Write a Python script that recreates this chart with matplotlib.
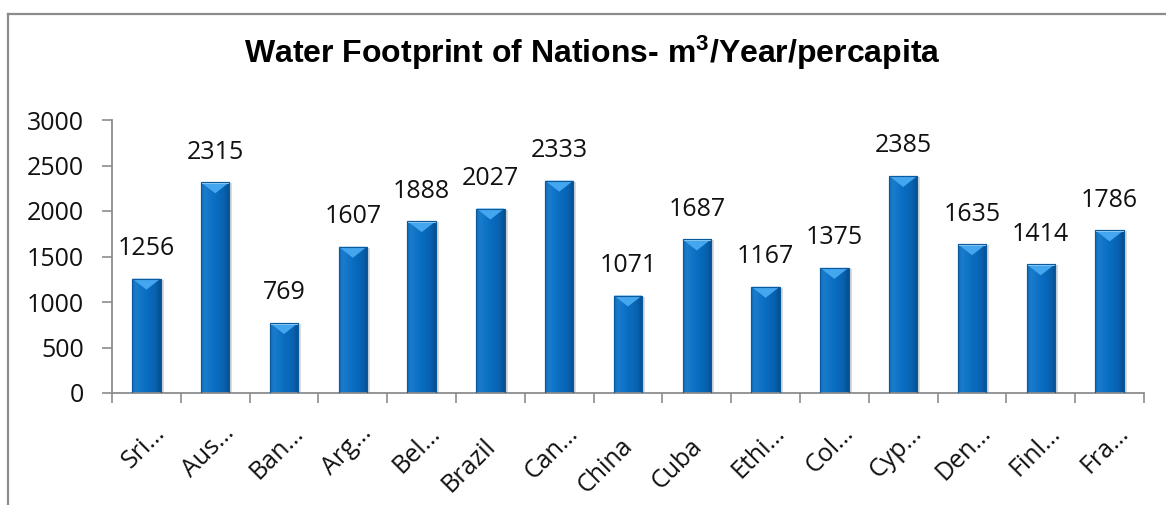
import matplotlib
matplotlib.use("Agg")
import matplotlib.pyplot as plt
import numpy as np
from matplotlib.colors import LinearSegmentedColormap
from matplotlib.patches import Polygon, Rectangle
from matplotlib.lines import Line2D
import matplotlib.transforms as mtransforms

plt.rcParams["mathtext.fontset"] = "custom"
plt.rcParams["mathtext.rm"] = "Liberation Sans:bold"
plt.rcParams["mathtext.bf"] = "Liberation Sans:bold"
plt.rcParams["mathtext.it"] = "Liberation Sans:bold"

countries = ["Sri…", "Aus…", "Ban…", "Arg…", "Bel…", "Brazil", "Can…", "China",
             "Cuba", "Ethi…", "Col…", "Cyp…", "Den…", "Finl…", "Fra…"]
values = [1256, 2315, 769, 1607, 1888, 2027, 2333, 1071, 1687, 1167, 1375,
          2385, 1635, 1414, 1786]
yticks = [0, 500, 1000, 1500, 2000, 2500, 3000]
title = r"Water Footprint of Nations- m$^{\mathrm{3}}$/Year/percapita"

W, H = 1166, 505
DPI = 100
fig = plt.figure(figsize=(W / DPI, H / DPI), dpi=DPI)
fig.patch.set_facecolor("white")

ax_left, ax_right = 112 / W, 1144 / W
ax_bottom, ax_top = 1 - 393 / H, 1 - 120 / H
ax = fig.add_axes([ax_left, ax_bottom, ax_right - ax_left, ax_top - ax_bottom])

lab_font = ["Open Sans", "DejaVu Sans"]
FS = 18
n = len(values)
x = np.arange(n)
bar_w = 0.41

# shadow
shadow_off = mtransforms.offset_copy(ax.transData, fig=fig, x=3, y=-1, units="dots")
for xi, v in zip(x, values):
    ax.add_patch(Rectangle((xi - bar_w / 2, 0), bar_w, v, facecolor="#9a9a9a",
                           alpha=0.35, edgecolor="none", transform=shadow_off, zorder=1))

bars = ax.bar(x, values, width=bar_w, color="#0a6cc0", edgecolor="#0b5a9e",
              linewidth=0.8, zorder=2)

grad_cmap = LinearSegmentedColormap.from_list(
    "barg", [(0.0, "#1068b5"), (0.12, "#1a7ccc"), (0.45, "#0a6fc3"),
             (0.8, "#0862b0"), (1.0, "#054f90")])
grad = np.linspace(0, 1, 64).reshape(1, -1)

ylim = (0, 3000)
ax.set_ylim(*ylim)
ax.set_xlim(-0.5, n - 0.5)
ax_h_px = (ax_top - ax_bottom) * H
per_px = (ylim[1] - ylim[0]) / ax_h_px
bevel = 11 * per_px

for b, v in zip(bars, values):
    x0 = b.get_x()
    x1 = x0 + b.get_width()
    im = ax.imshow(grad, extent=[x0, x1, 0, v], aspect="auto", cmap=grad_cmap,
                   zorder=2.5, interpolation="bilinear")
    im.set_clip_path(b)
    xc = (x0 + x1) / 2
    ax.add_patch(Polygon([[x0, v], [x1, v], [xc, v - bevel]], closed=True,
                         facecolor="#44a6ee", edgecolor="none", zorder=3))
    ax.add_patch(Polygon([[x0, v], [x1, v], [x1, v - 1.5 * per_px], [x0, v - 1.5 * per_px]],
                         closed=True, facecolor="#8ccaf5", edgecolor="none", zorder=3.2))
    ax.add_patch(Rectangle((x0, 0), b.get_width(), v, facecolor="none",
                           edgecolor="#0b5a9e", linewidth=0.8, zorder=3.5))
    ax.annotate(f"{v}", xy=(xc, v), xytext=(0, 17), textcoords="offset points",
                ha="center", va="baseline", fontsize=FS, family=lab_font,
                color="#111111", zorder=4)

ax.set_xlim(-0.5, n - 0.5)
ax.set_ylim(*ylim)

for s in ["top", "right"]:
    ax.spines[s].set_visible(False)
for s in ["left", "bottom"]:
    ax.spines[s].set_color("#8c8c8c")
    ax.spines[s].set_linewidth(1.3)

ax.set_yticks(yticks)
ax.set_yticklabels([str(t) for t in yticks], fontsize=FS, family=lab_font, color="#111111")
ax.tick_params(axis="y", direction="out", length=7.2, width=1.2, color="#8c8c8c", pad=13)

ax.set_xticks(x)
ax.set_xticks(np.arange(-0.5, n, 1.0), minor=True)
ax.tick_params(axis="x", which="minor", direction="out", length=7, width=1.2,
               color="#8c8c8c")
ax.tick_params(axis="x", which="major", length=0, pad=0)
ax.set_xticklabels([])

# category labels rotated 45 deg
for xi, lab in zip(x, countries):
    trunc = lab.endswith("…")
    dx, dy = (20, -41) if trunc else (6, -54)
    tr = mtransforms.offset_copy(ax.get_xaxis_transform(), fig=fig, x=dx, y=dy, units="dots")
    ax.text(xi, 0, lab, transform=tr, rotation=45, rotation_mode="anchor",
            ha="right", va="baseline", fontsize=FS, family=lab_font, color="#111111")

fig.text(592 / W, 1 - 63 / H, title, ha="center", va="baseline", fontsize=23,
         fontweight="bold", family=["Liberation Sans", "DejaVu Sans"], color="black")

# outer frame (top and left)
fig.add_artist(Line2D([8 / W, 1.0], [1 - 14 / H, 1 - 14 / H], transform=fig.transFigure,
                      color="#8c8c8c", linewidth=1.6))
fig.add_artist(Line2D([8 / W, 8 / W], [0, 1 - 14 / H], transform=fig.transFigure,
                      color="#8c8c8c", linewidth=1.6))

fig.savefig("out.png", dpi=DPI)
